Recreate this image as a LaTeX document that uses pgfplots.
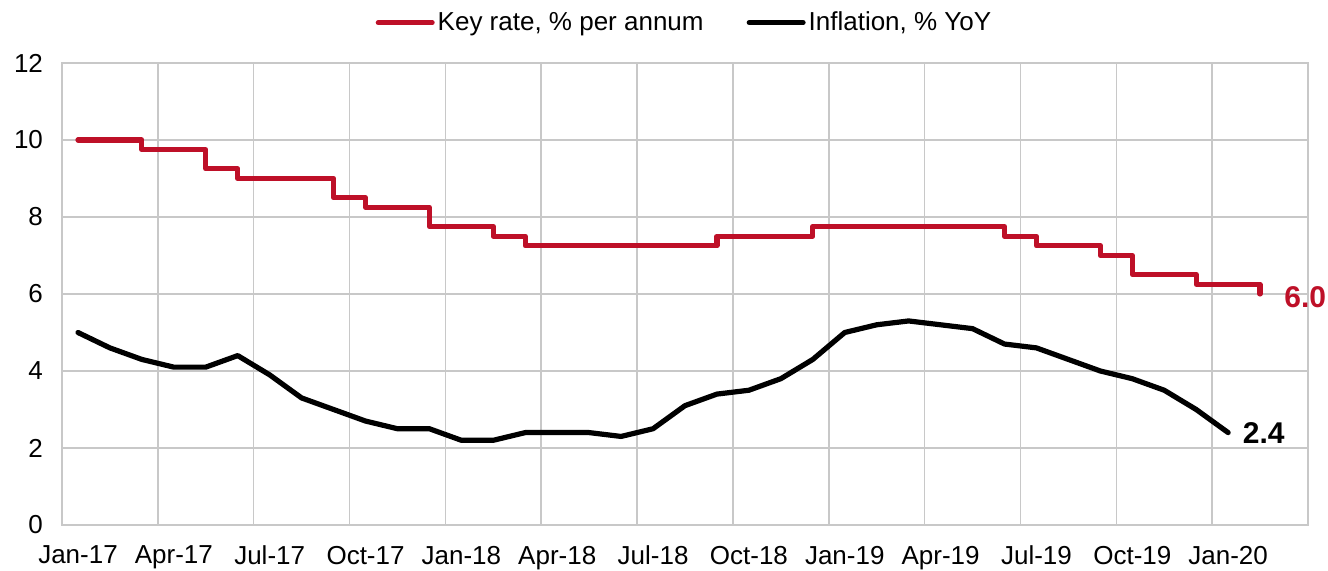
\documentclass[border=0pt]{standalone}
\usepackage{fontspec}
\setmainfont{Liberation Sans}
\usepackage{pgfplots}
\pgfplotsset{compat=1.18}
\definecolor{keyred}{RGB}{190,16,40}
\definecolor{gridgray}{RGB}{200,200,200}
\begin{document}
\begin{tikzpicture}[x=1pt,y=1pt]
\begin{axis}[
  at={(31pt,23pt)}, anchor=south west,
  scale only axis, width=623pt, height=231pt,
  xmin=0, xmax=39, ymin=0, ymax=12,
  xtick={0,3,...,36},
  xticklabels={Jan-17,Apr-17,Jul-17,Oct-17,Jan-18,Apr-18,Jul-18,Oct-18,Jan-19,Apr-19,Jul-19,Oct-19,Jan-20},
  ytick={0,2,...,12},
  major tick length=0pt,
  grid=major,
  grid style={gridgray, line width=0.8pt},
  axis line style={gridgray, line width=0.8pt},
  tick label style={font=\fontsize{13}{15}\selectfont},
  /pgf/number format/assume math mode=true,
  xticklabel style={yshift=-7pt, xshift=8pt},
  yticklabel style={xshift=-6pt},
  clip=false,
  legend columns=2,
  legend style={at={(0.5,1)}, anchor=south, yshift=13pt, draw=none, fill=none,
    font=\fontsize{13}{15}\selectfont, column sep=0pt, inner sep=0pt,
    nodes={inner sep=1.5pt},
    /tikz/every even column/.append style={column sep=20pt}},
  legend image code/.code={\draw[#1, line width=2.5pt] (0pt,0pt) -- (27pt,0pt);},
]
\addplot[keyred, line width=2.6pt, const plot, line cap=round, line join=round] coordinates {
(0.5,10) (2.5,9.75) (4.5,9.25) (5.5,9.0) (8.5,8.5) (9.5,8.25) (11.5,7.75)
(13.5,7.5) (14.5,7.25) (20.5,7.5) (23.5,7.75) (29.5,7.5) (30.5,7.25)
(32.5,7.0) (33.5,6.5) (35.5,6.25) (37.5,6.0) (37.5,6.0)
};
\addlegendentry{Key rate, \% per annum}
\addplot[black, line width=2.6pt, line cap=round, line join=round] coordinates {
(0.5,5.0) (1.5,4.6) (2.5,4.3) (3.5,4.1) (4.5,4.1) (5.5,4.4) (6.5,3.9) (7.5,3.3)
(8.5,3.0) (9.5,2.7) (10.5,2.5) (11.5,2.5) (12.5,2.2) (13.5,2.2) (14.5,2.4)
(15.5,2.4) (16.5,2.4) (17.5,2.3) (18.5,2.5) (19.5,3.1) (20.5,3.4) (21.5,3.5)
(22.5,3.8) (23.5,4.3) (24.5,5.0) (25.5,5.2) (26.5,5.3) (27.5,5.2) (28.5,5.1)
(29.5,4.7) (30.5,4.6) (31.5,4.3) (32.5,4.0) (33.5,3.8) (34.5,3.5) (35.5,3.0)
(36.5,2.4)
};
\addlegendentry{Inflation, \% YoY}
\node[anchor=west, text=keyred, font=\bfseries\fontsize{15}{17}\selectfont, inner sep=0pt] at (axis cs:38.25,5.92) {6.0};
\node[anchor=west, text=black, font=\bfseries\fontsize{15}{17}\selectfont, inner sep=0pt] at (axis cs:36.95,2.4) {2.4};
\end{axis}
\pgfresetboundingbox
\path (0,0) rectangle (664pt,285.5pt);
\end{tikzpicture}
\end{document}
